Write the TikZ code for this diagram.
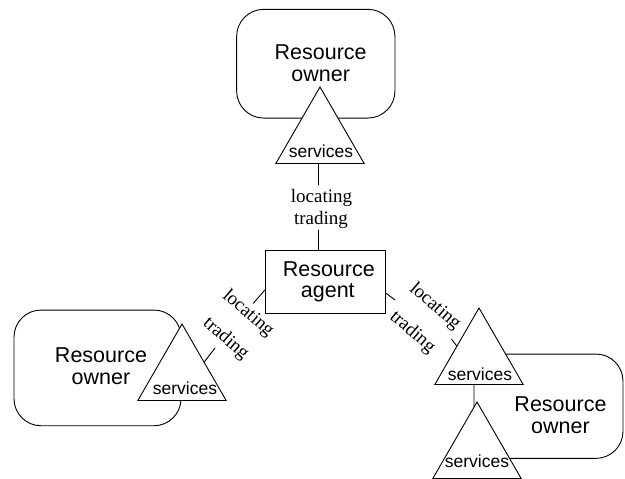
\documentclass[tikz,border=0pt]{standalone}
\usepackage{fontspec}
\setmainfont{Liberation Serif}
\newfontfamily\sansf{Liberation Sans}
\usetikzlibrary{shapes.geometric}

\tikzset{
  ln/.style={line width=0.9pt, line cap=round},
  ownerbox/.style={ln, draw, rounded corners=27pt, inner sep=0pt, outer sep=0pt},
  svc/.style={ln, draw, fill=white, regular polygon, regular polygon sides=3,
              minimum size=102pt, inner sep=0pt, outer sep=0pt},
  svctext/.style={font=\sansf\fontsize{17.5}{20}\selectfont, inner sep=0pt},
  bigtext/.style={font=\sansf\fontsize{21.5}{21.7}\selectfont, align=center, inner sep=0pt},
  linktext/.style={font=\fontsize{19}{21}\selectfont, inner sep=0pt},
  agentbox/.style={ln, draw, fill=white, minimum width=120.7pt, minimum height=62.3pt,
                   inner sep=0pt, outer sep=0pt, font=\sansf\fontsize{21.5}{21.7}\selectfont,
                   align=center}
}

\begin{document}
\begin{tikzpicture}[x=1pt, y=-1pt]
\useasboundingbox (0,0) rectangle (625,479);

% owner areas
\node[ownerbox, minimum width=158.3pt, minimum height=108.7pt] (ownTop) at (315.8,63.7) {};
\node[ownerbox, minimum width=167pt, minimum height=115.7pt] (ownLeft) at (97.5,367.9) {};
\node[ownerbox, minimum width=149pt, minimum height=104.3pt] (ownRight) at (548.5,406.2) {};

% service triangles
\node[svc] (tTop) at (320,138) {};
\node[svc] (tLeft) at (182,375) {};
\node[svc] (tRightA) at (479,359) {};
\node[svc] (tRightB) at (477,453) {};

\node[svctext] (sTop) at (321,151) {services};
\node[svctext] (sLeft) at (185,388.5) {services};
\node[svctext] (sRightA) at (480,374) {services};
\node[svctext] (sRightB) at (477,461.5) {services};

% owner names
\node[bigtext] (nTop) at (320.7,63.2) {Resource\\owner};
\node[bigtext] (nLeft) at (101,366.5) {Resource\\owner};
\node[bigtext] (nRight) at (560.5,415.5) {Resource\\owner};

% agent (text sits a little right of the box centre)
\node[agentbox] (agent) at (325.3,281.9) {\hspace*{7pt}Resource\\\hspace*{5pt}agent};

% link labels
\node[linktext] (locTop) at (321.5,198) {locating};
\node[linktext] (trdTop) at (321,220) {trading};
\node[linktext, rotate=-41] (locLeft) at (248,313.7) {locating};
\node[linktext, rotate=-41] (trdLeft) at (225.7,339) {trading};
\node[linktext, rotate=-41] (locRight) at (435,306.7) {locating};
\node[linktext, rotate=-41] (trdRight) at (412.3,332.3) {trading};

% connector ends beside the labels
\coordinate (cTopA) at (318,185);
\coordinate (cTopB) at (318,230);
\coordinate (cLeftA) at (253.3,303.3);
\coordinate (cLeftB) at (215,348);
\coordinate (cRightA) at (395,300);
\coordinate (cRightB) at (451.7,339.3);

% connectors
\draw[ln] (cTopA |- tTop.south) -- (cTopA);
\draw[ln] (cTopB) -- (cTopB |- agent.north);
\draw[ln] ([yshift=-8pt]agent.west) -- (cLeftA);
\draw[ln] (cLeftB) -- (tLeft.side 3);
\draw[ln] ([yshift=-11pt]agent.east) -- (cRightA);
\draw[ln] (cRightB) -- (tRightA.side 1);
\end{tikzpicture}
\end{document}
